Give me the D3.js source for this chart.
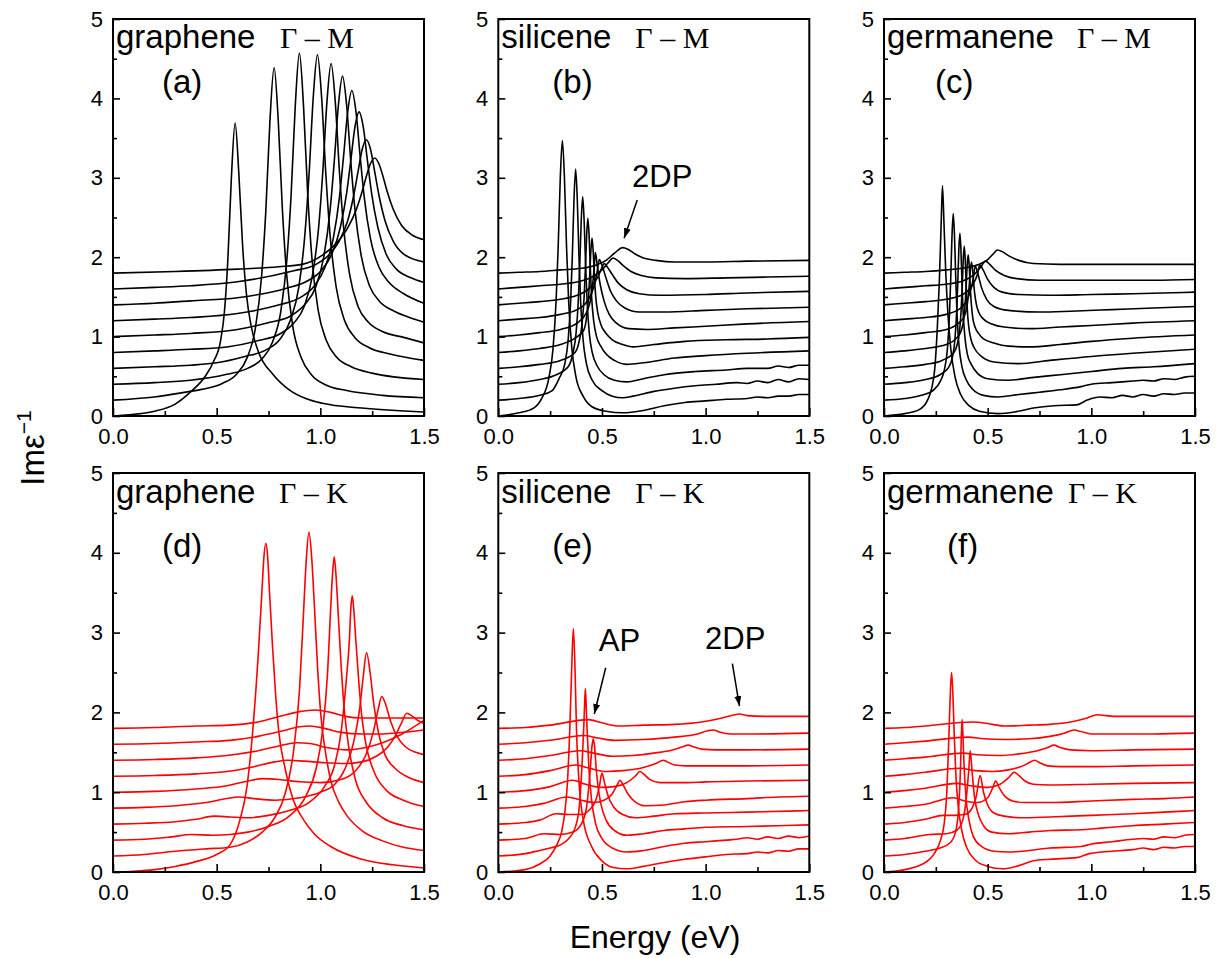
<!DOCTYPE html>
<meta charset="utf-8">
<style>
body { margin: 0; background: #fff; }
text { font-family: "Liberation Sans", Arial, sans-serif; fill: #000; }
.sym { font-family: "Liberation Serif", "Times New Roman", serif; }
.frame { fill: none; stroke: #000; stroke-width: 2; }
.tick line { stroke: #000; stroke-width: 1.6; }
.tick text { font-size: 22px; }
.domain { display: none; }
</style>
<script src="https://cdn.jsdelivr.net/npm/d3@7"></script>
<body>
<script>
// ---- data: each curve is a list of [energy (eV), Im eps^-1 (offset included)] ----
const xMajor = [0, 0.5, 1.0, 1.5];
const xMinor = [0.25, 0.75, 1.25];
const yMajor = [0, 1, 2, 3, 4, 5];
const yMinor = [0.5, 1.5, 2.5, 3.5, 4.5];

const materials = ['graphene', 'silicene', 'germanene', 'graphene', 'silicene', 'germanene'];
const directions = ['Γ – M', 'Γ – M', 'Γ – M', 'Γ – K', 'Γ – K', 'Γ – K'];
const tags = ['(a)', '(b)', '(c)', '(d)', '(e)', '(f)'];

const grapheneGM = [
  [[0,0],[0.1,0.02],[0.2,0.06],[0.3,0.15],[0.373,0.3],[0.45,0.52],[0.484,0.68],[0.519,0.95],[0.537,1.3],[0.554,1.97],[0.571,3.0],[0.589,3.69],[0.607,3.05],[0.625,2.15],[0.645,1.5],[0.665,1.15],[0.7,0.82],[0.773,0.52],[0.85,0.33],[0.93,0.22],[1.01,0.16],[1.2,0.1],[1.5,0.05]],
  [[0,0.2],[0.2,0.24],[0.373,0.31],[0.427,0.335],[0.527,0.41],[0.597,0.53],[0.647,0.735],[0.687,1.11],[0.717,1.77],[0.737,2.58],[0.757,3.72],[0.777,4.39],[0.797,3.72],[0.817,2.6],[0.837,1.8],[0.867,1.13],[0.907,0.74],[0.957,0.52],[1.027,0.39],[1.127,0.32],[1.3,0.26],[1.5,0.23]],
  [[0,0.4],[0.2,0.42],[0.373,0.45],[0.549,0.525],[0.649,0.6],[0.719,0.72],[0.769,0.93],[0.809,1.31],[0.839,1.98],[0.859,2.78],[0.879,3.9],[0.899,4.57],[0.919,3.9],[0.939,2.8],[0.959,2.0],[0.989,1.34],[1.029,0.95],[1.079,0.74],[1.149,0.62],[1.249,0.54],[1.5,0.46]],
  [[0,0.6],[0.2,0.62],[0.373,0.64],[0.5,0.67],[0.636,0.75],[0.736,0.83],[0.806,0.97],[0.856,1.21],[0.896,1.62],[0.926,2.3],[0.946,3.06],[0.966,4.02],[0.986,4.55],[1.006,4.02],[1.026,3.07],[1.046,2.31],[1.076,1.63],[1.116,1.21],[1.166,0.99],[1.236,0.86],[1.336,0.78],[1.5,0.7]],
  [[0,0.8],[0.2,0.82],[0.373,0.84],[0.55,0.87],[0.702,0.95],[0.802,1.03],[0.872,1.17],[0.922,1.38],[0.962,1.77],[0.992,2.38],[1.012,3.08],[1.032,3.96],[1.052,4.44],[1.072,3.96],[1.092,3.08],[1.112,2.38],[1.142,1.77],[1.182,1.38],[1.232,1.18],[1.302,1.06],[1.402,0.99],[1.5,0.92]],
  [[0,1.0],[0.2,1.02],[0.373,1.04],[0.6,1.09],[0.757,1.18],[0.857,1.26],[0.927,1.41],[0.977,1.62],[1.017,2.01],[1.047,2.59],[1.067,3.2],[1.087,3.91],[1.107,4.28],[1.127,3.91],[1.147,3.2],[1.167,2.6],[1.197,2.02],[1.237,1.64],[1.287,1.44],[1.357,1.32],[1.43,1.24],[1.5,1.18]],
  [[0,1.2],[0.2,1.22],[0.373,1.24],[0.6,1.29],[0.802,1.4],[0.902,1.49],[0.972,1.64],[1.022,1.87],[1.062,2.23],[1.092,2.75],[1.112,3.27],[1.132,3.83],[1.152,4.1],[1.172,3.83],[1.192,3.27],[1.212,2.75],[1.242,2.23],[1.282,1.88],[1.332,1.68],[1.402,1.54],[1.5,1.42]],
  [[0,1.4],[0.2,1.42],[0.373,1.45],[0.6,1.49],[0.837,1.61],[0.937,1.7],[1.007,1.84],[1.057,2.05],[1.097,2.38],[1.127,2.81],[1.147,3.22],[1.167,3.64],[1.187,3.83],[1.207,3.64],[1.227,3.22],[1.247,2.81],[1.277,2.38],[1.317,2.04],[1.367,1.85],[1.437,1.74],[1.5,1.68]],
  [[0,1.6],[0.2,1.62],[0.373,1.64],[0.6,1.69],[0.872,1.83],[0.972,1.9],[1.042,2.03],[1.092,2.21],[1.132,2.46],[1.162,2.79],[1.182,3.08],[1.202,3.36],[1.222,3.48],[1.242,3.36],[1.262,3.08],[1.282,2.79],[1.312,2.46],[1.352,2.2],[1.402,2.04],[1.5,1.94]],
  [[0,1.8],[0.3,1.82],[0.6,1.85],[0.8,1.88],[0.912,1.91],[1.012,2.03],[1.082,2.19],[1.132,2.37],[1.172,2.59],[1.202,2.83],[1.222,3.02],[1.242,3.18],[1.262,3.25],[1.282,3.18],[1.302,3.02],[1.322,2.83],[1.352,2.6],[1.392,2.4],[1.442,2.28],[1.5,2.22]]
];

const siliceneGM = [
  [[0,0],[0.1,0.04],[0.17,0.1],[0.209,0.22],[0.244,0.48],[0.264,0.85],[0.279,1.46],[0.289,2.14],[0.299,3.0],[0.309,3.47],[0.319,3.0],[0.329,2.14],[0.339,1.46],[0.354,0.87],[0.374,0.5],[0.409,0.25],[0.45,0.12],[0.52,0.06],[0.6,0.04],[0.7,0.07],[0.8,0.13],[0.9,0.17],[1.0,0.19],[1.1,0.21],[1.2,0.22],[1.25,0.24],[1.3,0.23],[1.35,0.25],[1.4,0.25],[1.45,0.27],[1.5,0.27]],
  [[0,0.2],[0.1,0.22],[0.2,0.26],[0.26,0.32],[0.293,0.47],[0.321,0.66],[0.337,0.96],[0.349,1.45],[0.357,2.01],[0.365,2.72],[0.373,3.11],[0.381,2.72],[0.389,2.01],[0.397,1.45],[0.409,0.96],[0.425,0.66],[0.453,0.45],[0.5,0.32],[0.55,0.25],[0.6,0.23],[0.65,0.25],[0.75,0.31],[0.85,0.35],[0.95,0.38],[1.05,0.4],[1.15,0.42],[1.2,0.41],[1.25,0.44],[1.3,0.42],[1.35,0.46],[1.4,0.43],[1.45,0.47],[1.5,0.46]],
  [[0,0.4],[0.1,0.42],[0.2,0.46],[0.28,0.52],[0.337,0.62],[0.36,0.79],[0.375,1.04],[0.386,1.46],[0.393,1.91],[0.4,2.46],[0.407,2.76],[0.414,2.46],[0.421,1.91],[0.428,1.46],[0.439,1.04],[0.454,0.79],[0.477,0.63],[0.51,0.52],[0.56,0.45],[0.62,0.43],[0.7,0.47],[0.8,0.52],[0.95,0.56],[1.1,0.58],[1.2,0.6],[1.3,0.6],[1.35,0.63],[1.4,0.61],[1.45,0.64],[1.5,0.64]],
  [[0,0.6],[0.1,0.62],[0.2,0.65],[0.3,0.7],[0.37,0.8],[0.39,0.94],[0.404,1.16],[0.414,1.5],[0.42,1.85],[0.426,2.27],[0.432,2.49],[0.438,2.27],[0.444,1.85],[0.45,1.5],[0.46,1.2],[0.474,1.0],[0.494,0.88],[0.52,0.78],[0.56,0.7],[0.62,0.65],[0.7,0.67],[0.85,0.73],[1.0,0.76],[1.2,0.79],[1.5,0.82]],
  [[0,0.8],[0.1,0.82],[0.2,0.85],[0.3,0.9],[0.37,0.98],[0.412,1.08],[0.425,1.23],[0.434,1.46],[0.44,1.72],[0.446,2.06],[0.452,2.24],[0.458,2.06],[0.464,1.74],[0.47,1.5],[0.48,1.3],[0.495,1.15],[0.52,1.04],[0.55,0.96],[0.6,0.9],[0.65,0.87],[0.75,0.9],[0.9,0.94],[1.1,0.96],[1.3,0.97],[1.5,0.99]],
  [[0,1.0],[0.1,1.02],[0.2,1.05],[0.3,1.09],[0.38,1.17],[0.425,1.3],[0.45,1.55],[0.462,1.85],[0.468,2.06],[0.478,1.88],[0.492,1.65],[0.51,1.45],[0.535,1.28],[0.57,1.17],[0.63,1.1],[0.72,1.09],[0.85,1.11],[1.0,1.13],[1.2,1.16],[1.5,1.19]],
  [[0,1.2],[0.1,1.22],[0.2,1.24],[0.3,1.28],[0.38,1.34],[0.43,1.45],[0.46,1.62],[0.477,1.82],[0.487,1.97],[0.5,1.9],[0.518,1.75],[0.54,1.58],[0.57,1.45],[0.61,1.36],[0.68,1.31],[0.8,1.31],[1.0,1.33],[1.2,1.35],[1.5,1.37]],
  [[0,1.4],[0.1,1.42],[0.2,1.44],[0.3,1.47],[0.38,1.52],[0.44,1.61],[0.48,1.75],[0.5,1.87],[0.51,1.92],[0.525,1.88],[0.55,1.78],[0.58,1.67],[0.62,1.59],[0.68,1.54],[0.78,1.52],[1.0,1.53],[1.2,1.55],[1.5,1.57]],
  [[0,1.6],[0.1,1.62],[0.2,1.64],[0.3,1.66],[0.4,1.7],[0.46,1.76],[0.5,1.84],[0.53,1.93],[0.553,1.99],[0.575,1.96],[0.6,1.9],[0.64,1.82],[0.69,1.77],[0.76,1.74],[0.9,1.73],[1.1,1.74],[1.3,1.75],[1.5,1.76]],
  [[0,1.8],[0.1,1.81],[0.2,1.82],[0.3,1.84],[0.4,1.86],[0.47,1.9],[0.52,1.96],[0.56,2.05],[0.6,2.12],[0.625,2.1],[0.66,2.04],[0.7,1.99],[0.76,1.96],[0.85,1.94],[1.0,1.94],[1.2,1.95],[1.5,1.96]]
];

const germaneneGM = [
  [[0,0],[0.1,0.03],[0.17,0.08],[0.21,0.2],[0.23,0.35],[0.245,0.6],[0.257,1.1],[0.267,1.7],[0.276,2.45],[0.282,2.9],[0.289,2.45],[0.298,1.8],[0.308,1.3],[0.322,0.85],[0.342,0.5],[0.37,0.27],[0.41,0.13],[0.46,0.06],[0.55,0.03],[0.63,0.05],[0.72,0.1],[0.82,0.13],[0.93,0.14],[0.98,0.2],[1.04,0.24],[1.1,0.23],[1.15,0.26],[1.2,0.24],[1.25,0.27],[1.3,0.25],[1.35,0.28],[1.4,0.27],[1.45,0.29],[1.5,0.29]],
  [[0,0.2],[0.1,0.22],[0.18,0.26],[0.24,0.33],[0.272,0.44],[0.292,0.59],[0.306,0.85],[0.316,1.29],[0.322,1.74],[0.328,2.27],[0.334,2.55],[0.34,2.27],[0.346,1.74],[0.352,1.29],[0.362,0.88],[0.376,0.62],[0.396,0.46],[0.43,0.33],[0.48,0.26],[0.55,0.24],[0.65,0.27],[0.75,0.3],[0.85,0.33],[0.95,0.37],[1.0,0.4],[1.1,0.42],[1.2,0.44],[1.25,0.45],[1.3,0.44],[1.35,0.47],[1.4,0.46],[1.45,0.49],[1.5,0.5]],
  [[0,0.4],[0.1,0.42],[0.2,0.46],[0.27,0.52],[0.311,0.61],[0.33,0.74],[0.342,0.96],[0.351,1.34],[0.356,1.69],[0.361,2.1],[0.366,2.3],[0.371,2.1],[0.376,1.69],[0.381,1.34],[0.39,1.0],[0.402,0.78],[0.421,0.65],[0.45,0.54],[0.5,0.47],[0.6,0.45],[0.7,0.48],[0.85,0.52],[1.0,0.56],[1.15,0.6],[1.3,0.62],[1.5,0.66]],
  [[0,0.6],[0.1,0.62],[0.2,0.65],[0.28,0.7],[0.337,0.8],[0.354,0.91],[0.365,1.09],[0.372,1.33],[0.377,1.61],[0.382,1.96],[0.387,2.14],[0.392,1.96],[0.397,1.61],[0.402,1.33],[0.409,1.12],[0.42,0.96],[0.437,0.85],[0.47,0.75],[0.53,0.68],[0.65,0.66],[0.8,0.7],[1.0,0.75],[1.2,0.79],[1.5,0.84]],
  [[0,0.8],[0.1,0.82],[0.2,0.85],[0.3,0.9],[0.356,1.0],[0.373,1.08],[0.384,1.21],[0.391,1.4],[0.396,1.62],[0.401,1.89],[0.406,2.03],[0.411,1.89],[0.416,1.62],[0.421,1.42],[0.428,1.24],[0.439,1.12],[0.456,1.04],[0.48,0.97],[0.53,0.92],[0.6,0.88],[0.7,0.87],[0.85,0.9],[1.0,0.94],[1.2,0.98],[1.5,1.02]],
  [[0,1.0],[0.1,1.02],[0.2,1.05],[0.3,1.09],[0.36,1.17],[0.386,1.25],[0.398,1.35],[0.407,1.52],[0.412,1.67],[0.417,1.85],[0.422,1.94],[0.427,1.85],[0.432,1.69],[0.437,1.55],[0.446,1.4],[0.458,1.3],[0.48,1.22],[0.52,1.16],[0.58,1.12],[0.7,1.1],[0.85,1.12],[1.0,1.14],[1.2,1.17],[1.5,1.2]],
  [[0,1.2],[0.1,1.22],[0.2,1.24],[0.3,1.28],[0.37,1.36],[0.41,1.52],[0.43,1.72],[0.44,1.89],[0.452,1.8],[0.47,1.62],[0.495,1.47],[0.53,1.38],[0.6,1.33],[0.75,1.31],[0.9,1.32],[1.1,1.34],[1.3,1.36],[1.5,1.38]],
  [[0,1.4],[0.1,1.42],[0.2,1.44],[0.3,1.47],[0.38,1.53],[0.43,1.66],[0.45,1.78],[0.462,1.9],[0.478,1.84],[0.5,1.72],[0.53,1.62],[0.57,1.56],[0.65,1.53],[0.8,1.52],[1.0,1.53],[1.2,1.54],[1.5,1.56]],
  [[0,1.6],[0.1,1.62],[0.2,1.64],[0.3,1.66],[0.38,1.7],[0.43,1.77],[0.465,1.87],[0.49,1.95],[0.51,1.91],[0.54,1.83],[0.58,1.77],[0.64,1.73],[0.75,1.71],[0.9,1.71],[1.1,1.71],[1.3,1.71],[1.5,1.72]],
  [[0,1.8],[0.1,1.81],[0.2,1.82],[0.3,1.84],[0.4,1.87],[0.46,1.91],[0.5,1.97],[0.53,2.05],[0.546,2.09],[0.57,2.07],[0.6,2.02],[0.65,1.96],[0.72,1.92],[0.85,1.91],[1.0,1.91],[1.2,1.91],[1.5,1.91]]
];

const grapheneGK = [
  [[0,0],[0.1,0.01],[0.2,0.03],[0.3,0.07],[0.4,0.13],[0.5,0.22],[0.564,0.34],[0.613,0.66],[0.645,1.05],[0.675,1.8],[0.7,2.7],[0.718,3.5],[0.728,3.95],[0.737,4.12],[0.746,3.95],[0.755,3.5],[0.77,2.8],[0.785,2.2],[0.8,1.75],[0.83,1.3],[0.87,0.9],[0.92,0.65],[0.97,0.48],[1.05,0.32],[1.2,0.16],[1.35,0.09],[1.5,0.05]],
  [[0,0.2],[0.15,0.22],[0.3,0.26],[0.45,0.29],[0.564,0.31],[0.65,0.38],[0.72,0.5],[0.78,0.68],[0.83,0.98],[0.87,1.5],[0.9,2.3],[0.918,3.2],[0.932,3.9],[0.945,4.26],[0.958,3.95],[0.972,3.3],[0.987,2.55],[1.003,1.95],[1.025,1.5],[1.05,1.15],[1.09,0.87],[1.13,0.7],[1.2,0.52],[1.3,0.39],[1.4,0.31],[1.5,0.27]],
  [[0,0.4],[0.15,0.41],[0.28,0.44],[0.38,0.47],[0.48,0.46],[0.564,0.47],[0.65,0.5],[0.75,0.57],[0.85,0.7],[0.93,0.95],[0.98,1.3],[1.01,1.75],[1.035,2.5],[1.048,3.2],[1.058,3.7],[1.067,3.95],[1.076,3.7],[1.087,3.2],[1.1,2.6],[1.115,2.05],[1.135,1.6],[1.17,1.15],[1.22,0.88],[1.3,0.68],[1.4,0.58],[1.5,0.53]],
  [[0,0.6],[0.15,0.61],[0.3,0.63],[0.4,0.66],[0.485,0.7],[0.564,0.69],[0.65,0.68],[0.75,0.71],[0.85,0.77],[0.95,0.88],[1.02,1.07],[1.07,1.35],[1.1,1.75],[1.125,2.4],[1.14,2.9],[1.147,3.3],[1.154,3.46],[1.161,3.3],[1.17,2.95],[1.185,2.4],[1.2,1.95],[1.22,1.6],[1.26,1.25],[1.32,1.02],[1.4,0.9],[1.5,0.82]],
  [[0,0.8],[0.15,0.81],[0.3,0.83],[0.45,0.87],[0.55,0.92],[0.605,0.94],[0.68,0.92],[0.78,0.9],[0.9,0.93],[1.0,1.0],[1.07,1.1],[1.12,1.3],[1.16,1.62],[1.19,2.05],[1.207,2.45],[1.223,2.75],[1.24,2.5],[1.258,2.1],[1.28,1.75],[1.31,1.48],[1.36,1.3],[1.43,1.18],[1.5,1.12]],
  [[0,1.0],[0.2,1.01],[0.4,1.04],[0.55,1.08],[0.65,1.14],[0.72,1.17],[0.8,1.16],[0.9,1.13],[1.0,1.12],[1.1,1.16],[1.17,1.27],[1.22,1.47],[1.255,1.75],[1.28,2.05],[1.296,2.2],[1.315,2.1],[1.34,1.88],[1.37,1.7],[1.41,1.57],[1.46,1.5],[1.5,1.47]],
  [[0,1.2],[0.2,1.21],[0.4,1.23],[0.55,1.26],[0.68,1.32],[0.78,1.38],[0.84,1.4],[0.92,1.39],[1.02,1.37],[1.12,1.36],[1.2,1.38],[1.27,1.45],[1.32,1.55],[1.36,1.7],[1.39,1.86],[1.417,1.99],[1.44,1.96],[1.47,1.9],[1.5,1.86]],
  [[0,1.4],[0.2,1.41],[0.4,1.43],[0.55,1.46],[0.7,1.52],[0.8,1.58],[0.886,1.62],[0.95,1.61],[1.03,1.56],[1.13,1.53],[1.22,1.56],[1.3,1.62],[1.38,1.71],[1.44,1.8],[1.5,1.9]],
  [[0,1.6],[0.2,1.61],[0.4,1.63],[0.564,1.65],[0.7,1.7],[0.82,1.77],[0.9,1.82],[0.95,1.83],[1.02,1.8],[1.1,1.75],[1.2,1.73],[1.3,1.73],[1.4,1.75],[1.5,1.78]],
  [[0,1.8],[0.2,1.81],[0.4,1.83],[0.564,1.84],[0.7,1.88],[0.82,1.96],[0.9,2.01],[0.975,2.03],[1.05,2.0],[1.12,1.95],[1.2,1.93],[1.35,1.93],[1.5,1.93]]
];

const siliceneGK = [
  [[0,0],[0.13,0.03],[0.2,0.1],[0.25,0.2],[0.28,0.33],[0.305,0.5],[0.32,0.73],[0.333,1.1],[0.345,1.8],[0.354,2.55],[0.362,3.05],[0.37,2.55],[0.377,1.8],[0.39,1.1],[0.41,0.65],[0.45,0.32],[0.5,0.14],[0.55,0.06],[0.62,0.04],[0.7,0.07],[0.8,0.12],[0.9,0.16],[1.0,0.19],[1.1,0.22],[1.2,0.23],[1.25,0.25],[1.3,0.24],[1.35,0.27],[1.4,0.26],[1.45,0.29],[1.5,0.29]],
  [[0,0.2],[0.13,0.23],[0.2,0.27],[0.25,0.3],[0.3,0.34],[0.34,0.42],[0.37,0.55],[0.39,0.8],[0.403,1.3],[0.412,1.8],[0.416,2.08],[0.42,2.3],[0.424,2.08],[0.428,1.8],[0.437,1.3],[0.45,0.9],[0.47,0.6],[0.5,0.42],[0.55,0.3],[0.62,0.25],[0.7,0.27],[0.8,0.32],[0.9,0.36],[1.0,0.38],[1.1,0.4],[1.15,0.41],[1.2,0.43],[1.25,0.41],[1.3,0.44],[1.35,0.42],[1.4,0.45],[1.45,0.43],[1.5,0.45]],
  [[0,0.4],[0.13,0.42],[0.22,0.48],[0.3,0.47],[0.36,0.5],[0.4,0.6],[0.425,0.8],[0.444,1.3],[0.452,1.58],[0.458,1.67],[0.464,1.58],[0.472,1.3],[0.482,1.05],[0.495,0.85],[0.52,0.65],[0.56,0.52],[0.62,0.46],[0.7,0.48],[0.8,0.52],[0.9,0.54],[1.0,0.56],[1.2,0.57],[1.35,0.58],[1.5,0.59]],
  [[0,0.6],[0.13,0.62],[0.2,0.65],[0.28,0.73],[0.34,0.72],[0.4,0.72],[0.44,0.78],[0.47,0.9],[0.488,1.08],[0.5,1.24],[0.512,1.12],[0.53,0.95],[0.555,0.82],[0.6,0.72],[0.66,0.68],[0.75,0.7],[0.85,0.73],[1.0,0.74],[1.2,0.75],[1.5,0.77]],
  [[0,0.8],[0.13,0.82],[0.22,0.86],[0.33,0.94],[0.4,0.9],[0.46,0.87],[0.51,0.9],[0.55,0.98],[0.575,1.1],[0.587,1.15],[0.6,1.1],[0.625,0.98],[0.66,0.88],[0.71,0.83],[0.8,0.84],[0.9,0.88],[1.0,0.9],[1.2,0.92],[1.35,0.94],[1.5,0.95]],
  [[0,1.0],[0.13,1.02],[0.25,1.07],[0.358,1.15],[0.42,1.1],[0.5,1.06],[0.56,1.07],[0.62,1.12],[0.66,1.2],[0.683,1.26],[0.7,1.23],[0.73,1.16],[0.78,1.12],[0.9,1.12],[1.0,1.13],[1.2,1.14],[1.5,1.15]],
  [[0,1.2],[0.13,1.22],[0.25,1.27],[0.375,1.34],[0.44,1.3],[0.52,1.26],[0.6,1.27],[0.7,1.31],[0.76,1.36],[0.796,1.4],[0.815,1.38],[0.85,1.34],[0.9,1.33],[1.0,1.33],[1.2,1.33],[1.5,1.34]],
  [[0,1.4],[0.13,1.42],[0.25,1.46],[0.394,1.52],[0.46,1.49],[0.55,1.45],[0.65,1.46],[0.75,1.49],[0.84,1.53],[0.89,1.57],[0.916,1.59],[0.94,1.57],[0.98,1.54],[1.05,1.53],[1.2,1.53],[1.5,1.54]],
  [[0,1.6],[0.13,1.62],[0.25,1.65],[0.41,1.71],[0.48,1.68],[0.56,1.65],[0.7,1.66],[0.85,1.69],[0.96,1.73],[1.01,1.77],[1.037,1.78],[1.07,1.75],[1.12,1.73],[1.25,1.73],[1.5,1.74]],
  [[0,1.8],[0.13,1.81],[0.25,1.84],[0.434,1.91],[0.5,1.87],[0.58,1.83],[0.7,1.84],[0.85,1.85],[0.98,1.88],[1.08,1.93],[1.14,1.97],[1.162,1.98],[1.2,1.96],[1.3,1.95],[1.5,1.95]]
];

const germaneneGK = [
  [[0,0],[0.1,0.03],[0.2,0.12],[0.24,0.22],[0.27,0.38],[0.29,0.6],[0.303,1.0],[0.313,1.7],[0.32,2.25],[0.326,2.5],[0.332,2.25],[0.339,1.7],[0.347,1.2],[0.357,0.85],[0.375,0.52],[0.4,0.3],[0.44,0.15],[0.5,0.07],[0.57,0.04],[0.65,0.08],[0.72,0.14],[0.8,0.16],[0.93,0.18],[0.99,0.23],[1.05,0.25],[1.1,0.26],[1.2,0.28],[1.25,0.3],[1.3,0.28],[1.35,0.31],[1.4,0.3],[1.45,0.32],[1.5,0.32]],
  [[0,0.2],[0.1,0.22],[0.2,0.26],[0.27,0.3],[0.32,0.37],[0.345,0.5],[0.36,0.8],[0.369,1.3],[0.373,1.7],[0.377,1.91],[0.381,1.7],[0.386,1.35],[0.395,0.95],[0.41,0.65],[0.43,0.45],[0.47,0.32],[0.53,0.26],[0.6,0.25],[0.7,0.27],[0.8,0.3],[0.95,0.32],[1.0,0.35],[1.1,0.38],[1.2,0.41],[1.25,0.42],[1.3,0.41],[1.35,0.44],[1.4,0.43],[1.45,0.46],[1.5,0.47]],
  [[0,0.4],[0.1,0.42],[0.22,0.47],[0.3,0.48],[0.35,0.52],[0.38,0.65],[0.398,0.95],[0.408,1.25],[0.416,1.52],[0.425,1.25],[0.436,0.95],[0.455,0.72],[0.48,0.58],[0.52,0.5],[0.6,0.48],[0.7,0.5],[0.8,0.52],[0.95,0.53],[1.05,0.55],[1.2,0.58],[1.35,0.6],[1.5,0.62]],
  [[0,0.6],[0.1,0.62],[0.2,0.66],[0.286,0.71],[0.34,0.71],[0.39,0.72],[0.42,0.78],[0.445,0.95],[0.464,1.21],[0.48,1.0],[0.5,0.84],[0.53,0.74],[0.58,0.7],[0.66,0.68],[0.8,0.69],[1.0,0.71],[1.2,0.73],[1.35,0.75],[1.5,0.77]],
  [[0,0.8],[0.1,0.82],[0.2,0.85],[0.334,0.93],[0.39,0.89],[0.45,0.87],[0.5,0.93],[0.525,1.06],[0.538,1.14],[0.555,1.06],[0.58,0.96],[0.62,0.89],[0.68,0.87],[0.8,0.87],[1.0,0.89],[1.2,0.91],[1.35,0.92],[1.5,0.94]],
  [[0,1.0],[0.1,1.02],[0.2,1.05],[0.35,1.11],[0.42,1.08],[0.5,1.06],[0.56,1.1],[0.6,1.18],[0.628,1.25],[0.65,1.21],[0.68,1.14],[0.72,1.1],[0.8,1.09],[1.0,1.1],[1.2,1.11],[1.5,1.12]],
  [[0,1.2],[0.1,1.22],[0.2,1.25],[0.366,1.3],[0.44,1.27],[0.52,1.26],[0.6,1.28],[0.67,1.33],[0.7,1.37],[0.726,1.4],[0.75,1.37],[0.79,1.33],[0.85,1.32],[1.0,1.32],[1.2,1.33],[1.5,1.34]],
  [[0,1.4],[0.1,1.42],[0.2,1.44],[0.382,1.49],[0.45,1.47],[0.55,1.46],[0.65,1.48],[0.74,1.52],[0.79,1.56],[0.82,1.59],[0.85,1.56],[0.9,1.53],[1.0,1.52],[1.2,1.53],[1.5,1.54]],
  [[0,1.6],[0.1,1.62],[0.2,1.64],[0.406,1.69],[0.48,1.67],[0.58,1.66],[0.7,1.67],[0.8,1.7],[0.87,1.74],[0.917,1.78],[0.95,1.76],[1.0,1.73],[1.1,1.73],[1.3,1.73],[1.5,1.74]],
  [[0,1.8],[0.1,1.81],[0.2,1.83],[0.43,1.88],[0.5,1.86],[0.58,1.83],[0.7,1.84],[0.8,1.85],[0.9,1.88],[0.98,1.93],[1.029,1.97],[1.07,1.96],[1.12,1.95],[1.3,1.95],[1.5,1.95]]
];

const spectra = [grapheneGM, siliceneGM, germaneneGM, grapheneGK, siliceneGK, germaneneGK];

// annotations: [panel, label, text x, text y, arrow from x, y, arrow to x, y] in data units
const notes = [
  [1, '2DP', 0.645, 2.88, 0.67, 2.72, 0.607, 2.24],
  [4, 'AP', 0.485, 2.77, 0.518, 2.56, 0.463, 1.98],
  [4, '2DP', 0.997, 2.79, 1.129, 2.61, 1.163, 2.08]
];

// ---- layout ----
const W = 1227, H = 958;
const colLeft = [113, 498.3, 884];
const rowTop = [19, 473];
const rowH = [397, 399];
const pw = 311;
const symX = [167, 137, 193, 166, 137, 184];
const tagX = [49, 54, 51, 49, 54, 63];

const svg = d3.select('body').append('svg')
  .attr('width', W).attr('height', H)
  .style('background', '#fff');

const defs = svg.append('defs');
defs.append('marker')
  .attr('id', 'arrow')
  .attr('viewBox', '0 0 10 10')
  .attr('refX', 10).attr('refY', 5)
  .attr('markerWidth', 10).attr('markerHeight', 10)
  .attr('markerUnits', 'userSpaceOnUse')
  .attr('orient', 'auto')
  .append('path').attr('d', 'M0,1.5 L10,5 L0,8.5 Z').attr('fill', '#000');

spectra.forEach((curves, i) => {
  const row = Math.floor(i / 3), col = i % 3;
  const h = rowH[row];
  const colour = row === 0 ? '#000' : '#ff0000';

  const x = d3.scaleLinear().domain([0, 1.5]).range([0, pw]);
  const y = d3.scaleLinear().domain([0, 5]).range([h, 0]);

  const g = svg.append('g')
    .attr('transform', `translate(${colLeft[col]},${rowTop[row]})`);

  defs.append('clipPath').attr('id', 'clip' + i)
    .append('rect').attr('width', pw).attr('height', h);

  const line = d3.line()
    .x(d => x(d[0]))
    .y(d => y(d[1]))
    .curve(d3.curveMonotoneX);

  g.append('g')
    .attr('clip-path', `url(#clip${i})`)
    .selectAll('path')
    .data(curves)
    .join('path')
      .attr('d', line)
      .attr('fill', 'none')
      .attr('stroke', colour)
      .attr('stroke-width', 1.6)
      .attr('stroke-linejoin', 'round');

  // axes with ticks pointing inward
  g.append('g')
    .attr('transform', `translate(0,${h})`)
    .call(d3.axisBottom(x).tickValues(xMajor).tickFormat(d3.format('.1f'))
      .tickSize(-8).tickPadding(12));
  g.append('g')
    .attr('transform', `translate(0,${h})`)
    .call(d3.axisBottom(x).tickValues(xMinor).tickFormat('').tickSize(-5));
  g.append('g')
    .call(d3.axisLeft(y).tickValues(yMajor).tickFormat(d3.format('d'))
      .tickSize(-7).tickPadding(10));
  g.append('g')
    .call(d3.axisLeft(y).tickValues(yMinor).tickFormat('').tickSize(-4));

  g.selectAll('.tick text').attr('fill', '#000');

  g.append('rect').attr('class', 'frame').attr('width', pw).attr('height', h);

  // titles
  const ty = row === 0 ? 29 : 30;
  g.append('text').attr('x', 3).attr('y', ty)
    .style('font-size', '33px').text(materials[i]);
  g.append('text').attr('class', 'sym').attr('x', symX[i]).attr('y', ty)
    .style('font-size', '30px').text(directions[i]);
  g.append('text').attr('x', tagX[i]).attr('y', row === 0 ? 74 : 84)
    .style('font-size', '33px').text(tags[i]);

  notes.filter(n => n[0] === i).forEach(n => {
    g.append('text').attr('x', x(n[2])).attr('y', y(n[3]))
      .style('font-size', '31px').text(n[1]);
    g.append('line')
      .attr('x1', x(n[4])).attr('y1', y(n[5]))
      .attr('x2', x(n[6])).attr('y2', y(n[7]))
      .attr('stroke', '#000').attr('stroke-width', 1.5)
      .attr('marker-end', 'url(#arrow)');
  });
});

// shared axis titles
const yt = svg.append('text')
  .attr('transform', 'translate(44,448) rotate(-90)')
  .attr('text-anchor', 'middle')
  .style('font-size', '33px');
yt.append('tspan').text('Imε');
yt.append('tspan').attr('dy', -13).style('font-size', '21px').text('−1');

svg.append('text')
  .attr('x', 655).attr('y', 948)
  .attr('text-anchor', 'middle')
  .style('font-size', '32px')
  .text('Energy (eV)');
</script>
</body>
</html>
